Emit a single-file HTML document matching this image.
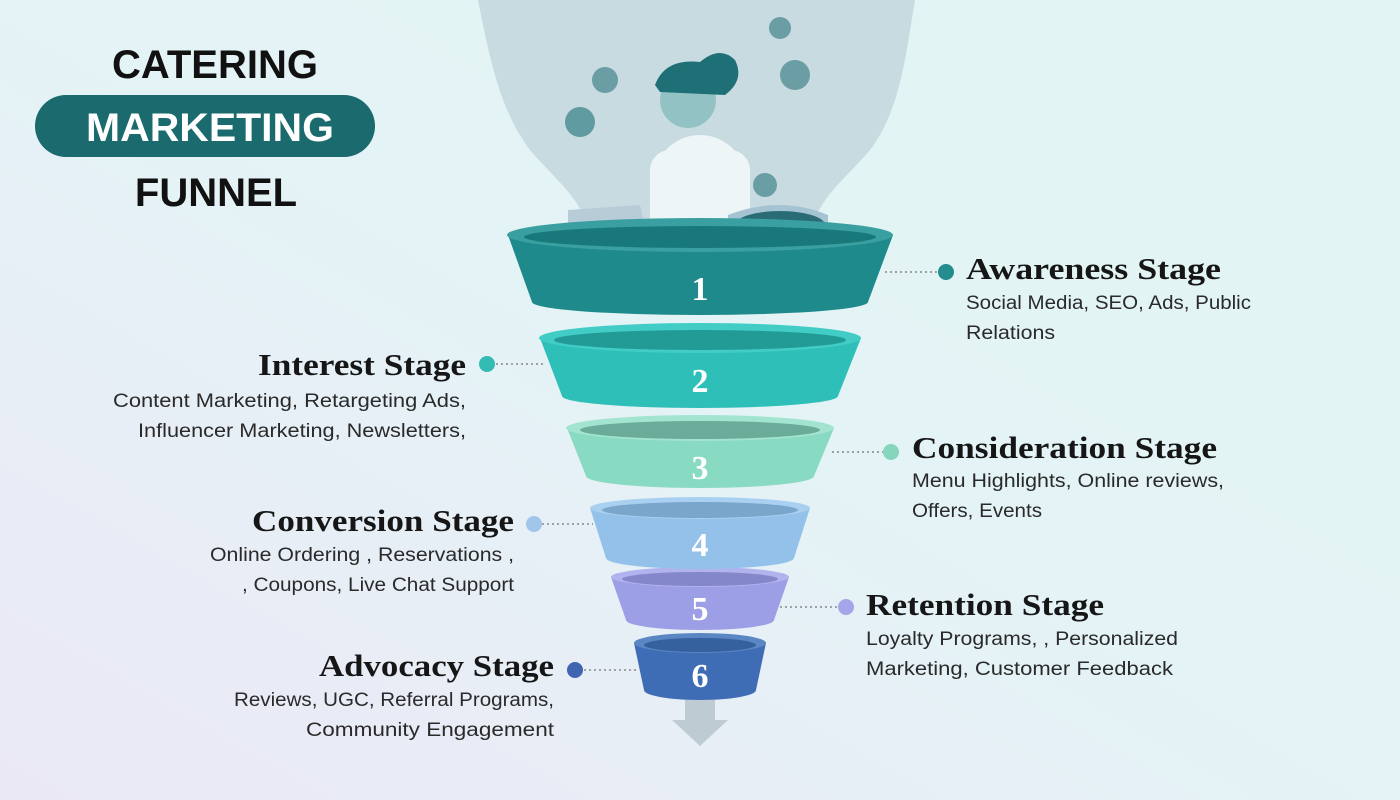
<!DOCTYPE html>
<html><head><meta charset="utf-8"><style>
html,body{margin:0;padding:0;width:1400px;height:800px;overflow:hidden}
svg{display:block}
.h{font-family:"Liberation Serif",serif;font-weight:bold;font-size:31px;fill:#161616}
.d{font-family:"Liberation Sans",sans-serif;font-size:19px;fill:#2a2a2a}
.n{font-family:"Liberation Serif",serif;font-weight:bold;font-size:34px;fill:#fff}
.t{font-family:"Liberation Sans",sans-serif;font-weight:bold;font-size:40px}
</style></head><body>
<svg width="1400" height="800" viewBox="0 0 1400 800" xmlns="http://www.w3.org/2000/svg">
<defs>
<linearGradient id="bg" x1="0" y1="1" x2="1" y2="0">
<stop offset="0" stop-color="#ebe8f6"/><stop offset="0.5" stop-color="#e4f3f6"/><stop offset="1" stop-color="#e2f5f3"/>
</linearGradient>
</defs>
<rect width="1400" height="800" fill="url(#bg)"/>
<path d="M478 0 L915 0 C905 60 900 110 870 150 C840 185 815 200 810 240 L590 240 C585 200 560 185 530 150 C500 110 490 60 478 0 Z" fill="#c8dbe1"/>
<ellipse cx="700" cy="190" rx="50" ry="55" fill="#eef5f6"/>
<rect x="650" y="150" width="100" height="90" rx="20" fill="#eef5f6"/>
<circle cx="688" cy="100" r="28" fill="#93c2c4"/>
<path d="M655 85 Q665 58 700 62 Q720 45 735 60 Q745 80 725 95 L660 92 Z" fill="#1e6f76"/>
<path d="M568 210 L640 205 L648 240 L568 240 Z" fill="#b8ccd8"/>
<path d="M728 215 Q780 195 828 215 L828 240 L728 240 Z" fill="#a5c3d3"/>
<ellipse cx="780" cy="225" rx="45" ry="14" fill="#2a6c76"/>
<circle cx="605" cy="80" r="13" fill="#6a9ea4"/><circle cx="580" cy="122" r="15" fill="#5f9ba0"/>
<circle cx="795" cy="75" r="15" fill="#6a9ea4"/><circle cx="780" cy="28" r="11" fill="#6a9ea4"/>
<circle cx="765" cy="185" r="12" fill="#6a9ea4"/>
<text class="t" x="215" y="78" text-anchor="middle" fill="#111">CATERING</text>
<rect x="35" y="95" width="340" height="62" rx="31" fill="#1a6a6e"/>
<text class="t" x="210" y="141" text-anchor="middle" fill="#fff" textLength="248" lengthAdjust="spacingAndGlyphs">MARKETING</text>
<text class="t" x="216" y="206" text-anchor="middle" fill="#111">FUNNEL</text>
<g>
<path d="M700 690 L685 690 L685 720 L672 720 L700 746 L728 720 L715 720 L715 690Z" fill="#bfcbd2"/>
<path d="M634 643 L644 690 A56 10 0 0 0 756 690 L766 643 Z" fill="#3f6db5"/>
<ellipse cx="700" cy="643" rx="66" ry="10" fill="#5b86c4"/><ellipse cx="700" cy="645" rx="56" ry="7" fill="#36619f"/>
<text class="n" x="700" y="687" text-anchor="middle">6</text>
<path d="M611 577 L626 620 A74 10 0 0 0 774 620 L789 577 Z" fill="#9c9fe6"/>
<ellipse cx="700" cy="577" rx="89" ry="10" fill="#b1b3ee"/><ellipse cx="700" cy="579" rx="78" ry="7" fill="#8487c9"/>
<text class="n" x="700" y="620" text-anchor="middle">5</text>
<path d="M590 508 L606 558 A94 11 0 0 0 794 558 L810 508 Z" fill="#93c1ea"/>
<ellipse cx="700" cy="508" rx="110" ry="11" fill="#a9d0f0"/><ellipse cx="700" cy="510" rx="98" ry="8" fill="#7aa6cc"/>
<text class="n" x="700" y="556" text-anchor="middle">4</text>
<path d="M567 428 L586 476 A114 12 0 0 0 814 476 L834 428 Z" fill="#88dac2"/>
<ellipse cx="700" cy="428" rx="134" ry="13" fill="#a3e4d1"/><ellipse cx="700" cy="430" rx="120" ry="9" fill="#6bab9a"/>
<text class="n" x="700" y="479" text-anchor="middle">3</text>
<path d="M540 338 L562 396 A138 12 0 0 0 838 396 L861 338 Z" fill="#2fbfb9"/>
<ellipse cx="700" cy="338" rx="161" ry="15" fill="#41cdc6"/><ellipse cx="700" cy="340" rx="146" ry="10" fill="#229a96"/>
<text class="n" x="700" y="392" text-anchor="middle">2</text>
<path d="M508 235 L532 302 A168 13 0 0 0 868 302 L893 235 Z" fill="#1f8a8b"/>
<ellipse cx="700" cy="235" rx="193" ry="17" fill="#3a9fa0"/><ellipse cx="700" cy="237" rx="176" ry="11" fill="#19797a"/>
<text class="n" x="700" y="300" text-anchor="middle">1</text>
</g>
<g stroke="#888" stroke-width="1.5" stroke-dasharray="2 3">
<line x1="885" y1="272" x2="940" y2="272"/>
<line x1="496" y1="364" x2="545" y2="364"/>
<line x1="832" y1="452" x2="884" y2="452"/>
<line x1="542" y1="524" x2="593" y2="524"/>
<line x1="780" y1="607" x2="839" y2="607"/>
<line x1="584" y1="670" x2="636" y2="670"/>
</g>
<circle cx="946" cy="272" r="8" fill="#238c8e"/>
<circle cx="487" cy="364" r="8" fill="#33bbb4"/>
<circle cx="891" cy="452" r="8" fill="#86d6bd"/>
<circle cx="534" cy="524" r="8" fill="#a2c6ea"/>
<circle cx="846" cy="607" r="8" fill="#a3a6e8"/>
<circle cx="575" cy="670" r="8" fill="#3f65b0"/>
<g lengthAdjust="spacingAndGlyphs">
<text class="h" x="966" y="279" textLength="255" lengthAdjust="spacingAndGlyphs">Awareness Stage</text>
<text class="d" x="966" y="309" textLength="285" lengthAdjust="spacingAndGlyphs">Social Media, SEO, Ads, Public</text>
<text class="d" x="966" y="339" textLength="89" lengthAdjust="spacingAndGlyphs">Relations</text>

<text class="h" x="466" y="375" text-anchor="end" textLength="208" lengthAdjust="spacingAndGlyphs">Interest Stage</text>
<text class="d" x="466" y="407" text-anchor="end" textLength="353" lengthAdjust="spacingAndGlyphs">Content Marketing, Retargeting Ads,</text>
<text class="d" x="466" y="437" text-anchor="end" textLength="328" lengthAdjust="spacingAndGlyphs">Influencer Marketing, Newsletters,</text>

<text class="h" x="912" y="458" textLength="305" lengthAdjust="spacingAndGlyphs">Consideration Stage</text>
<text class="d" x="912" y="487" textLength="312" lengthAdjust="spacingAndGlyphs">Menu Highlights, Online reviews,</text>
<text class="d" x="912" y="517" textLength="130" lengthAdjust="spacingAndGlyphs">Offers, Events</text>

<text class="h" x="514" y="531" text-anchor="end" textLength="262" lengthAdjust="spacingAndGlyphs">Conversion Stage</text>
<text class="d" x="514" y="561" text-anchor="end" textLength="304" lengthAdjust="spacingAndGlyphs">Online Ordering , Reservations ,</text>
<text class="d" x="514" y="591" text-anchor="end" textLength="272" lengthAdjust="spacingAndGlyphs">, Coupons, Live Chat Support</text>

<text class="h" x="866" y="615" textLength="238" lengthAdjust="spacingAndGlyphs">Retention Stage</text>
<text class="d" x="866" y="645" textLength="312" lengthAdjust="spacingAndGlyphs">Loyalty Programs, , Personalized</text>
<text class="d" x="866" y="675" textLength="307" lengthAdjust="spacingAndGlyphs">Marketing, Customer Feedback</text>

<text class="h" x="554" y="676" text-anchor="end" textLength="235" lengthAdjust="spacingAndGlyphs">Advocacy Stage</text>
<text class="d" x="554" y="706" text-anchor="end" textLength="320" lengthAdjust="spacingAndGlyphs">Reviews, UGC, Referral Programs,</text>
<text class="d" x="554" y="736" text-anchor="end" textLength="248" lengthAdjust="spacingAndGlyphs">Community Engagement</text>
</g>
</svg>
</body></html>
